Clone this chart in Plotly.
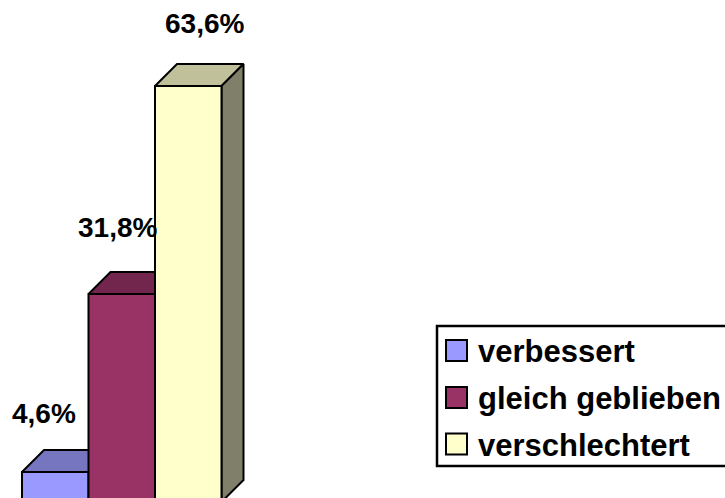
import plotly.graph_objects as go

# ---- data ----
categories = ["verbessert", "gleich geblieben", "verschlechtert"]
values = [4.6, 31.8, 63.6]
labels = ["4,6%", "31,8%", "63,6%"]

# ---- style ----
front_colors = ["#9999FF", "#993366", "#FFFFCC"]
top_colors = ["#7575C0", "#73264D", "#C0C09A"]
side_colors = ["#7373BF", "#73264D", "#80806A"]
label_dx = [-0.17, -0.07, 0.24]
label_dy = [9.0, 10.1, 9.6]

W, H = 725, 498
# pixel geometry used to set axis ranges
X0_PX, BAR_PX = 22.0, 66.5
BASE_PX, K_PX = 502.0, 6.54
DEPTH_PX = 22.0

x_range = [-0.5 - X0_PX / BAR_PX, -0.5 + (W - X0_PX) / BAR_PX]
y_range = [(BASE_PX - H) / K_PX, BASE_PX / K_PX]
dx = DEPTH_PX / BAR_PX
dy = DEPTH_PX / K_PX

fig = go.Figure()
line = dict(color="black", width=2)

for i, v in enumerate(values):
    l, r = i - 0.5, i + 0.5
    # top face
    fig.add_trace(go.Scatter(
        x=[l, l + dx, r + dx, r, l], y=[v, v + dy, v + dy, v, v],
        mode="lines", fill="toself", fillcolor=top_colors[i], line=line,
        hoverinfo="skip", showlegend=False))
    # side face
    fig.add_trace(go.Scatter(
        x=[r, r, r + dx, r + dx, r], y=[0, v, v + dy, dy, 0],
        mode="lines", fill="toself", fillcolor=side_colors[i], line=line,
        hoverinfo="skip", showlegend=False))
    # front face
    fig.add_trace(go.Scatter(
        x=[l, l, r, r, l], y=[0, v, v, 0, 0],
        mode="lines", fill="toself", fillcolor=front_colors[i], line=line,
        hoverinfo="skip", showlegend=False, name=categories[i]))

annotations = []
for i, v in enumerate(values):
    annotations.append(dict(
        x=i + label_dx[i], y=v + label_dy[i], xref="x", yref="y",
        text="<b>%s</b>" % labels[i], showarrow=False,
        font=dict(family="Arial, Liberation Sans, sans-serif", size=28, color="black"),
        xanchor="center", yanchor="middle"))

# manual legend (paper coords)
def px(x):
    return x / W

def py(y):
    return 1 - y / H

shapes = [dict(type="rect", xref="paper", yref="paper",
               x0=px(437), x1=px(760), y0=py(466), y1=py(326),
               line=dict(color="black", width=2.5), fillcolor="white", layer="above")]
row_y = [350.5, 397.5, 444]
for i, name in enumerate(categories):
    cy = row_y[i]
    shapes.append(dict(type="rect", xref="paper", yref="paper",
                       x0=px(446), x1=px(467), y0=py(cy + 10.5), y1=py(cy - 10.5),
                       line=dict(color="black", width=2), fillcolor=front_colors[i],
                       layer="above"))
    annotations.append(dict(
        x=px(476), y=py(cy + 1), xref="paper", yref="paper",
        text="<b>%s</b>" % name, showarrow=False,
        font=dict(family="Arial, Liberation Sans, sans-serif", size=31, color="black"),
        xanchor="left", yanchor="middle"))

fig.update_layout(
    width=W, height=H,
    margin=dict(l=0, r=0, t=0, b=0),
    paper_bgcolor="white", plot_bgcolor="white",
    xaxis=dict(range=x_range, visible=False, fixedrange=True),
    yaxis=dict(range=y_range, visible=False, fixedrange=True),
    showlegend=False,
    shapes=shapes,
    annotations=annotations,
)

fig.write_html("out.html",
               config={"displayModeBar": False, "staticPlot": True},
               post_script="document.body.style.margin='0px';document.body.style.overflow='hidden';")
